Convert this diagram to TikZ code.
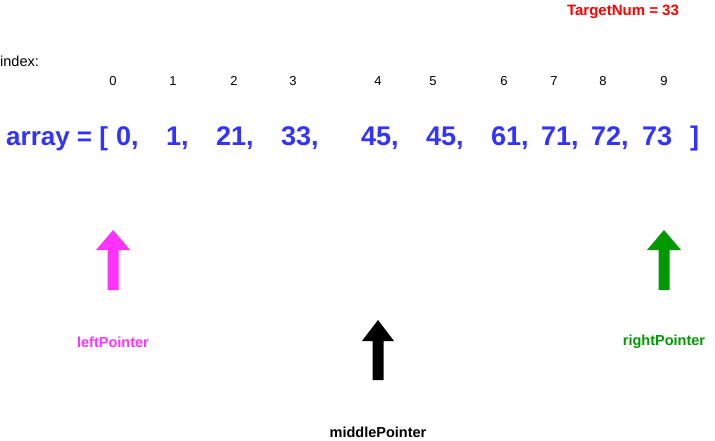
\documentclass[tikz,border=0pt]{standalone}
\usepackage{fontspec}
\setmainfont{Liberation Sans}
\definecolor{arrblue}{HTML}{3333FF}
\definecolor{tred}{HTML}{FF0000}
\definecolor{lpink}{HTML}{FF33FF}
\definecolor{rgreen}{HTML}{009900}
\tikzset{
  idx/.style={font=\fontsize{13}{13}\selectfont, anchor=center, inner sep=0pt},
  arr/.style={font=\bfseries\fontsize{27}{27}\selectfont, text=arrblue, anchor=base west, inner sep=0pt},
  lbl/.style={font=\bfseries\fontsize{14.5}{14.5}\selectfont, anchor=center, inner sep=0pt}
}
\begin{document}
\begin{tikzpicture}[x=1pt,y=-1pt]
\useasboundingbox (0,0) rectangle (715,441);
\node[lbl, text=tred, font=\bfseries\fontsize{15}{15}\selectfont] (target) at (623,12) {TargetNum = 33};
\node[font=\fontsize{14.5}{14.5}\selectfont, anchor=west, inner sep=0pt] (index) at (0,61) {index:};
\node[idx] (i0) at (113,81) {0};
\node[idx] (i1) at (173,81) {1};
\node[idx] (i2) at (234,81) {2};
\node[idx] (i3) at (293,81) {3};
\node[idx] (i4) at (378,81) {4};
\node[idx] (i5) at (433,81) {5};
\node[idx] (i6) at (504,81) {6};
\node[idx] (i7) at (554,81) {7};
\node[idx] (i8) at (603,81) {8};
\node[idx] (i9) at (664,81) {9};
\node[arr, font=\bfseries\fontsize{26}{26}\selectfont] (a) at (6,146) {array = [};
\node[arr] (v0) at (116,146) {0,};
\node[arr] (v1) at (166,146) {1,};
\node[arr] (v2) at (216,146) {21,};
\node[arr] (v3) at (281,146) {33,};
\node[arr] (v4) at (361,146) {45,};
\node[arr] (v5) at (426,146) {45,};
\node[arr] (v6) at (491,146) {61,};
\node[arr] (v7) at (541,146) {71,};
\node[arr] (v8) at (591,146) {72,};
\node[arr] (v9) at (642,146) {73};
\node[arr] (close) at (690,146) {]};
% pointers
\fill[lpink] (107.5,290) -- (118.5,290) -- (118.5,250) -- (130,250) -- (113,230) -- (96,250) -- (107.5,250) -- cycle;
\fill[rgreen] (658.5,290) -- (669.5,290) -- (669.5,250) -- (681,250) -- (664,230) -- (647,250) -- (658.5,250) -- cycle;
\fill[black] (372.5,380) -- (383.5,380) -- (383.5,341) -- (394,341) -- (378,320) -- (362,341) -- (372.5,341) -- cycle;
\node[lbl, text=lpink] (lp) at (113,342) {leftPointer};
\node[lbl, text=rgreen] (rp) at (664,342) {rightPointer};
\node[lbl, text=black] (mp) at (378,432) {middlePointer};
\end{tikzpicture}
\end{document}
